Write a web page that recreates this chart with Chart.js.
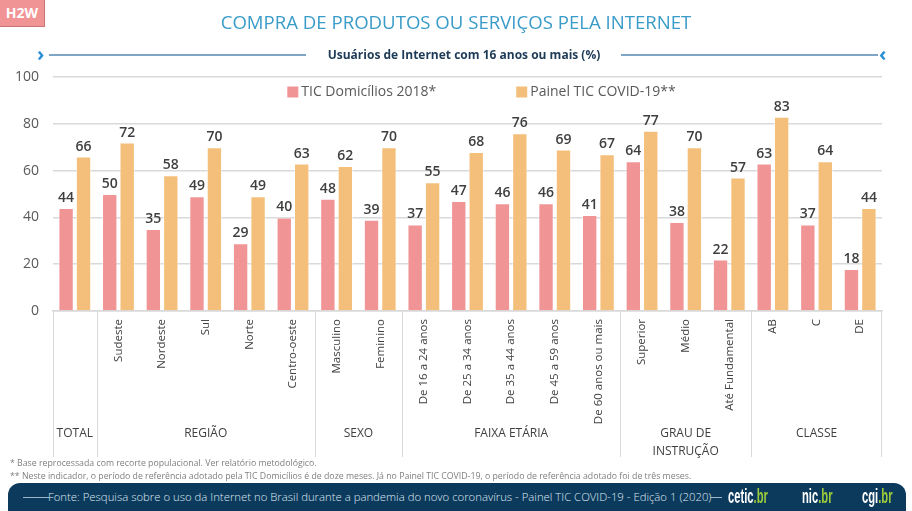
<!DOCTYPE html>
<html lang="pt-BR">
<head>
<meta charset="utf-8">
<script src="https://cdn.jsdelivr.net/npm/chart.js@4.4.1/dist/chart.umd.min.js"></script>
<style>
  html, body { margin: 0; padding: 0; background: #ffffff; }
  body { width: 912px; height: 511px; position: relative; overflow: hidden; font-family: "Open Sans", "Noto Sans", sans-serif; }
  #chartWrap { position: absolute; left: 0; top: 0; width: 912px; height: 511px; }
  #badge { position: absolute; left: 0; top: 0; width: 44px; height: 26px; background: #f09496; border-right: 1px solid #c77474; border-bottom: 1px solid #c77474; color: #fff; font-weight: 700; font-size: 14px; line-height: 26px; text-align: center; font-family: "Open Sans", sans-serif; z-index: 2; }
  #title { position: absolute; left: 0; top: 9px; width: 912px; text-align: center; font-size: 18.6px; color: #3a9cc8; font-weight: 400; z-index: 2; }
  #subtitleRow { position: absolute; left: 36px; top: 45px; width: 856px; height: 20px; z-index: 2; }
  #subtitle { position: absolute; left: 0; width: 856px; top: 1px; text-align: center; font-size: 12px; font-weight: 700; color: #1d3a57; }
  .sline { position: absolute; top: 9px; height: 2px; background: #7ea5c6; }
  .chev { position: absolute; top: -2px; font-size: 20px; font-weight: 700; color: #2b8fd6; line-height: 22px; }
  .note { position: absolute; left: 10px; font-size: 8.75px; color: #7f7f7f; z-index: 2; white-space: nowrap; }
  #footer { position: absolute; left: 8px; top: 483px; width: 898px; height: 40px; background: #0c3a5d; border-radius: 12px 12px 0 0; z-index: 2; }
  #fonte { position: absolute; left: 40px; top: 6px; font-size: 11.35px; color: #dfe8f0; white-space: nowrap; font-weight: 300; }
  .fline { position: absolute; top: 14px; height: 1px; background: #9fb5c8; }
  .logo { position: absolute; top: 2px; font-family: "Liberation Sans", "DejaVu Sans", sans-serif; font-weight: 700; font-size: 20px; line-height: 22px; color: #ffffff; white-space: nowrap; transform: scaleX(0.56); transform-origin: left center; }
  .logo span { color: #9ccb3b; }
</style>
</head>
<body>
<div id="badge">H2W</div>
<div id="title">COMPRA DE PRODUTOS OU SERVIÇOS PELA INTERNET</div>
<div id="subtitleRow">
  <span class="chev" style="left:1px">›</span>
  <div class="sline" style="left:13px; width:257px"></div>
  <div id="subtitle">Usuários de Internet com 16 anos ou mais (%)</div>
  <div class="sline" style="left:585px; width:257px"></div>
  <span class="chev" style="left:843px">‹</span>
</div>
<div id="chartWrap"><canvas id="c" width="912" height="511"></canvas></div>
<div class="note" style="top:457px">* Base reprocessada com recorte populacional. Ver relatório metodológico.</div>
<div class="note" style="top:470px">** Neste indicador, o período de referência adotado pela TIC Domicílios é de doze meses. Já no Painel TIC COVID-19, o período de referência adotado foi de três meses.</div>
<div id="footer">
  <div class="fline" style="left:15px; width:26px"></div>
  <div id="fonte">Fonte: Pesquisa sobre o uso da Internet no Brasil durante a pandemia do novo coronavírus - Painel TIC COVID-19 - Edição 1 (2020)</div>
  <div class="fline" style="left:702px; width:12px"></div>
  <div class="logo" style="left:720px">cetic<span>.br</span></div>
  <div class="logo" style="left:794px">nic<span>.br</span></div>
  <div class="logo" style="left:854px">cgi<span>.br</span></div>
</div>
<script>
const categories = ['', 'Sudeste', 'Nordeste', 'Sul', 'Norte', 'Centro-oeste', 'Masculino', 'Feminino',
  'De 16 a 24 anos', 'De 25 a 34 anos', 'De 35 a 44 anos', 'De 45 a 59 anos', 'De 60 anos ou mais',
  'Superior', 'Médio', 'Até Fundamental', 'AB', 'C', 'DE'];
const ticDomicilios2018 = [44, 50, 35, 49, 29, 40, 48, 39, 37, 47, 46, 46, 41, 64, 38, 22, 63, 37, 18];
const painelCovid19 = [66, 72, 58, 70, 49, 63, 62, 70, 55, 68, 76, 69, 67, 77, 70, 57, 83, 64, 44];
const seriesNames = ['TIC Domicílios 2018*', 'Painel TIC COVID-19**'];
const groupNames = [['TOTAL'], ['REGIÃO'], ['SEXO'], ['FAIXA ETÁRIA'], ['GRAU DE', 'INSTRUÇÃO'], ['CLASSE']];
const groupSizes = [1, 5, 2, 5, 3, 3];
const yTicks = [0, 20, 40, 60, 80, 100];

const FONT = '"Open Sans", "Noto Sans", sans-serif';
const PINK = '#f09496';
const ORANGE = '#f3bf7a';

const valueLabels = {
  id: 'valueLabels',
  afterDatasetsDraw(chart) {
    const ctx = chart.ctx;
    ctx.save();
    ctx.font = '600 14px ' + FONT;
    ctx.fillStyle = '#3f3f3f';
    ctx.textAlign = 'center';
    ctx.textBaseline = 'bottom';
    chart.data.datasets.forEach((ds, di) => {
      chart.getDatasetMeta(di).data.forEach((bar, i) => {
        ctx.fillText(String(ds.data[i]), bar.x, bar.y - 3);
      });
    });
    ctx.restore();
  }
};

const legendInArea = {
  id: 'legendInArea',
  afterDraw(chart) {
    const ctx = chart.ctx;
    const area = chart.chartArea;
    ctx.save();
    ctx.font = '14px ' + FONT;
    ctx.textBaseline = 'middle';
    ctx.textAlign = 'left';
    const y = area.top + 15;
    const gap = 80;
    const w0 = 14 + ctx.measureText(seriesNames[0]).width;
    const w1 = 14 + ctx.measureText(seriesNames[1]).width;
    const total = w0 + gap + w1;
    let x = (area.left + area.right) / 2 + 14 - total / 2;
    [[PINK, seriesNames[0], w0], [ORANGE, seriesNames[1], w1]].forEach(([col, txt, w]) => {
      ctx.fillStyle = col;
      ctx.fillRect(x, y - 5.5, 11, 11);
      ctx.fillStyle = '#595959';
      ctx.fillText(txt, x + 14, y + 0.5);
      x += w + gap;
    });
    ctx.restore();
  }
};

const groupAxis = {
  id: 'groupAxis',
  afterDraw(chart) {
    const ctx = chart.ctx;
    const xs = chart.scales.x;
    const bottom = chart.chartArea.bottom;
    const catW = xs.getPixelForValue(1) - xs.getPixelForValue(0);
    ctx.save();
    ctx.strokeStyle = '#d9d9d9';
    ctx.lineWidth = 1;
    ctx.font = '12px ' + FONT;
    ctx.fillStyle = '#404040';
    ctx.textAlign = 'center';
    ctx.textBaseline = 'middle';
    let start = 0;
    groupSizes.forEach((n, g) => {
      const left = xs.getPixelForValue(start) - catW / 2;
      const right = xs.getPixelForValue(start + n - 1) + catW / 2;
      const lx = Math.round(left) + 0.5;
      ctx.beginPath(); ctx.moveTo(lx, bottom); ctx.lineTo(lx, 457); ctx.stroke();
      if (g === groupSizes.length - 1) {
        const rx = Math.round(right) - 0.5;
        ctx.beginPath(); ctx.moveTo(rx, bottom); ctx.lineTo(rx, 457); ctx.stroke();
      }
      const lines = groupNames[g];
      lines.forEach((t, k) => ctx.fillText(t, (left + right) / 2, 434 + k * 18));
      start += n;
    });
    ctx.restore();
  }
};

new Chart(document.getElementById('c'), {
  type: 'bar',
  data: {
    labels: categories,
    datasets: [
      { label: seriesNames[0], data: ticDomicilios2018, backgroundColor: PINK, borderColor: 'rgba(255,255,255,0.55)', borderWidth: 1, borderSkipped: 'bottom' },
      { label: seriesNames[1], data: painelCovid19, backgroundColor: ORANGE, borderColor: 'rgba(255,255,255,0.55)', borderWidth: 1, borderSkipped: 'bottom' }
    ]
  },
  options: {
    responsive: false,
    animation: false,
    devicePixelRatio: 1,
    layout: { padding: { top: 77, right: 30, left: 0, bottom: 0 } },
    datasets: { bar: { categoryPercentage: 0.8, barPercentage: 0.88 } },
    plugins: { legend: { display: false }, tooltip: { enabled: false }, title: { display: false } },
    scales: {
      x: {
        grid: { display: false },
        border: { display: true, color: '#d9d9d9', width: 1.5 },
        ticks: { autoSkip: false, maxRotation: 90, minRotation: 90, padding: 0, color: '#404040', font: { size: 11.5, family: FONT } },
        afterFit(s) { s.height = 200; }
      },
      y: {
        min: 0, max: 100,
        afterBuildTicks(s) { s.ticks = yTicks.map(v => ({ value: v })); },
        grid: { color: '#d9d9d9', lineWidth: 1.5, drawTicks: false },
        border: { display: false },
        ticks: { padding: 14, color: '#595959', font: { size: 14, family: FONT } },
        afterFit(s) { s.width = 53; }
      }
    }
  },
  plugins: [valueLabels, legendInArea, groupAxis]
});
</script>
</body>
</html>
